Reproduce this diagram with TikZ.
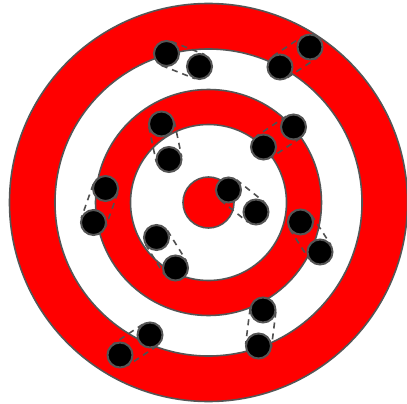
\documentclass[tikz,border=0pt]{standalone}
\usetikzlibrary{calc}
\definecolor{rimgray}{HTML}{555555}
\definecolor{dashgray}{HTML}{505050}
\tikzset{
  ring/.style={draw=rimgray, line width=1.6pt},
  redring/.style={ring, fill=red},
  whitering/.style={ring, fill=white},
  hole/.style={circle, draw=rimgray, fill=black, line width=2pt, minimum size=25pt, inner sep=0pt},
  tangent/.style={draw=dashgray, line width=1.6pt, dash pattern=on 6pt off 5pt},
}
\newcommand{\pairlink}[2]{%
  \draw[tangent] ($(#1.center)!13pt!90:(#2.center)$) -- ($(#2.center)!13pt!-90:(#1.center)$);
  \draw[tangent] ($(#1.center)!13pt!-90:(#2.center)$) -- ($(#2.center)!13pt!90:(#1.center)$);
}
\begin{document}
\begin{tikzpicture}[x=1pt,y=-1pt]
\useasboundingbox (0,0) rectangle (407,404);
\coordinate (c) at (208.5,202.5);
\draw[redring] (c) circle (199);
\draw[whitering] (c) circle (153.5);
\draw[redring] (c) circle (113);
\draw[whitering] (c) circle (78);
\draw[redring] (c) circle (25.5);
% hole positions
\path
  (166.5,53.5) coordinate (p1)  (199.5,66.5) coordinate (p2)
  (280,67) coordinate (p3)      (310,47) coordinate (p4)
  (161.5,124) coordinate (p5)   (169,159.5) coordinate (p6)
  (293.5,127) coordinate (p7)   (263.5,147) coordinate (p8)
  (105.5,188.5) coordinate (p9) (93.5,222.5) coordinate (p10)
  (228.5,190) coordinate (p11)  (256,212) coordinate (p12)
  (156.5,237.5) coordinate (p13) (175.5,268) coordinate (p14)
  (300.5,222) coordinate (p15)  (320,252) coordinate (p16)
  (263,310) coordinate (p17)    (258.5,346) coordinate (p18)
  (150,335) coordinate (p19)    (120,355) coordinate (p20);
\foreach \a/\b in {p1/p2,p3/p4,p5/p6,p7/p8,p9/p10,p11/p12,p13/p14,p15/p16,p17/p18,p19/p20}{
  \pairlink{\a}{\b}
}
\foreach \i in {1,...,20}{
  \node[hole] (h\i) at (p\i) {};
}
\end{tikzpicture}
\end{document}
